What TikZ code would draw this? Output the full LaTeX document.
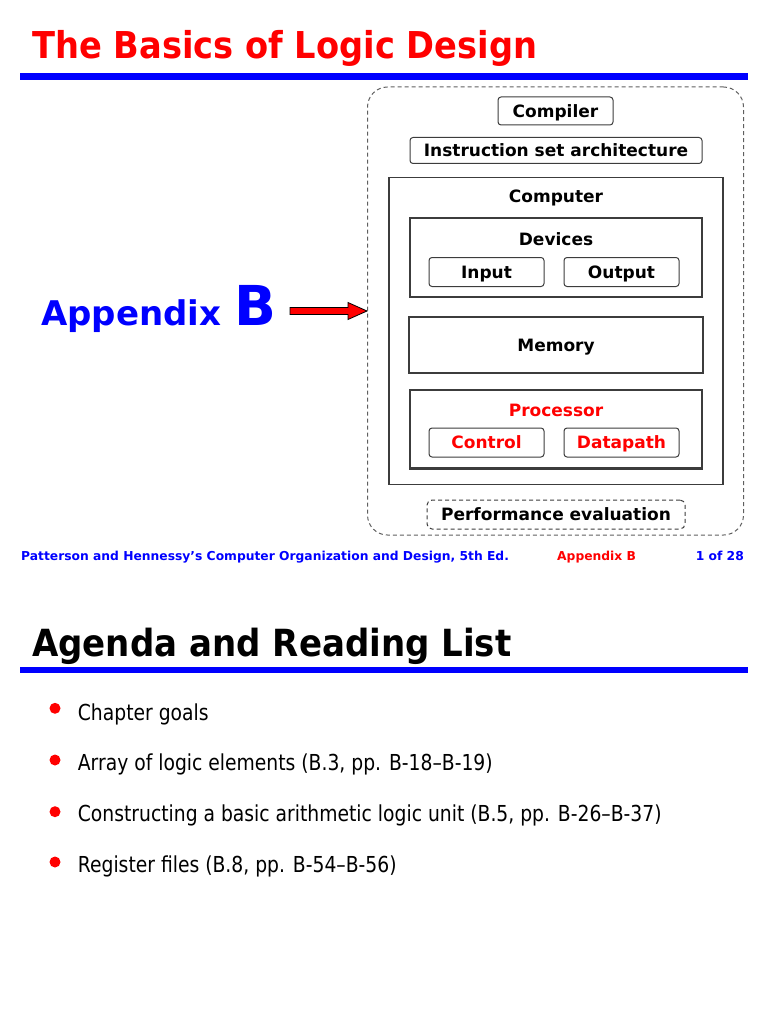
\documentclass[tikz,border=0pt]{standalone}
\usepackage{fontspec}
\setmainfont{DejaVu Sans}
\newfontfamily\headfont[FakeStretch=0.91]{DejaVu Sans}
\newfontfamily\itemfont[FakeStretch=0.852]{DejaVu Sans}
\usetikzlibrary{calc,positioning}
\definecolor{slideblue}{RGB}{0,0,255}
\definecolor{slidered}{RGB}{255,0,0}
\definecolor{boxgray}{RGB}{60,60,60}
\definecolor{dashgray}{RGB}{95,95,95}
\newcommand{\boxtxt}{\bfseries\fontsize{17}{19}\selectfont}

\begin{document}
\begin{tikzpicture}[x=1pt,y=-1pt,
  box/.style={draw=boxgray,line width=1.2pt,inner sep=0pt,minimum width=292pt},
  tag/.style={draw=boxgray,line width=1pt,rounded corners=3pt,inner sep=0pt,
    minimum width=115pt,minimum height=29pt,text height=12.4pt,text depth=0pt,font=\boxtxt},
  boxtitle/.style={inner sep=0pt,text height=12.4pt,text depth=0pt,font=\boxtxt},
  outerbox/.style={draw=dashgray,line width=1pt,dash pattern=on 4pt off 3pt,rounded corners=20pt},
  headline/.style={anchor=base west,inner sep=0pt,font=\headfont\bfseries\fontsize{37}{40}\selectfont},
  footline/.style={inner sep=0pt,font=\bfseries\fontsize{12.3}{14}\selectfont},
  dot/.style={circle,fill=slidered,inner sep=0pt,minimum size=11pt},
  itemtxt/.style={anchor=base west,inner sep=0pt,font=\itemfont\fontsize{22}{26}\selectfont}]
	\useasboundingbox (0,0) rectangle (768,1024);
	\coordinate (OR) at (0,0);
	\coordinate (TOPRULE) at (20,76.5);
	\coordinate (LOWRULE) at (20,670);
	% first slide
	\node[headline,text=slidered] (title) at (32,58.5) {The Basics of Logic Design};
	\draw[slideblue,line width=6.5pt] (TOPRULE) to ($ (TOPRULE) + (728,0) $);
	\node[outerbox,minimum width=376pt,minimum height=448pt] (system) at (555.5,311) {};
	\node[tag,minimum height=28pt] (compiler) at (555.5,111) {Compiler};
	\node[tag,minimum width=292pt,minimum height=26pt] (isa) at (556,150.5) {Instruction set architecture};
	\node[box,minimum width=334pt,minimum height=307pt] (computer) at (556,331) {};
	\node[boxtitle] (comptitle) at ($ (computer.north) + (0,19) $) {Computer};
	\node[box,minimum height=79pt] (devices) at (556,257.5) {};
	\node[boxtitle] (devtitle) at ($ (devices.north) + (0,21.5) $) {Devices};
	\node[tag] (input) at (486.5,272) {Input};
	\node[tag] (output) at (621.5,272) {Output};
	\node[box,minimum width=294pt,minimum height=56pt,text height=12.4pt,text depth=0pt,font=\boxtxt] (memory) at (556,345) {Memory};
	\node[box,minimum height=78pt] (processor) at (556,429) {};
	\draw[boxgray,line width=2.2pt] (processor.south west) to (processor.south east);
	\node[boxtitle,text=slidered] (proctitle) at ($ (processor.north) + (0,20.5) $) {Processor};
	\node[tag,text=slidered] (control) at (486.5,442.5) {Control};
	\node[tag,text=slidered] (datapath) at (621.5,442.5) {Datapath};
	\node[tag,dash pattern=on 4pt off 3pt,rounded corners=5pt,minimum width=258pt] (perf) at (556,514.5) {Performance evaluation};
	\node[anchor=base west,inner sep=0pt,text=slideblue,font=\bfseries\fontsize{34}{36}\selectfont] (appword) at (41,325) {Appendix};
	\node[anchor=base west,inner sep=0pt,text=slideblue,font=\bfseries\fontsize{55}{60}\selectfont] (appletter) at (234,325) {B};
	\coordinate (arrtip) at (system.west);
	\coordinate (arrtail) at ($ (arrtip) + (-77,0) $);
	\draw[black,line width=0.8pt,fill=slidered] ($ (arrtail) + (0,-3.5) $) -- ($ (arrtip) + (-19,-3.5) $) -- ($ (arrtip) + (-19,-8.5) $) -- (arrtip)
	   -- ($ (arrtip) + (-19,8.5) $) -- ($ (arrtip) + (-19,3.5) $) -- ($ (arrtail) + (0,3.5) $) -- cycle;
	\node[footline,anchor=base west,text=slideblue] (book) at (21,560) {Patterson and Hennessy’s Computer Organization and Design, 5th Ed.};
	\node[footline,anchor=base west,text=slidered] (chapter) at (557,560) {Appendix B};
	\node[footline,anchor=base east,text=slideblue] (pagenum) at (744,560) {1 of 28};
	% second slide
	\node[headline,font=\headfont\bfseries\fontsize{37.4}{42}\selectfont] (agenda) at (32,656) {Agenda and Reading List};
	\draw[slideblue,line width=6.5pt] (LOWRULE) to ($ (LOWRULE) + (728,0) $);
	\node[dot] (d1) at (55,708.3) {};
	\node[dot] (d2) at (55,760) {};
	\node[dot] (d3) at (55,811.7) {};
	\node[dot] (d4) at (55,862) {};
	\node[itemtxt] (goals) at ($ (d1) + (22.7,11.7) $) {Chapter goals};
	\node[itemtxt] (arrays) at ($ (d2) + (22.7,10.7) $) {Array of logic elements (B.3, pp. B-18–B-19)};
	\node[itemtxt] (alu) at ($ (d3) + (22.7,10) $) {Constructing a basic arithmetic logic unit (B.5, pp. B-26–B-37)};
	\node[itemtxt] (regs) at ($ (d4) + (22.7,10.7) $) {Register files (B.8, pp. B-54–B-56)};
\end{tikzpicture}
\end{document}
